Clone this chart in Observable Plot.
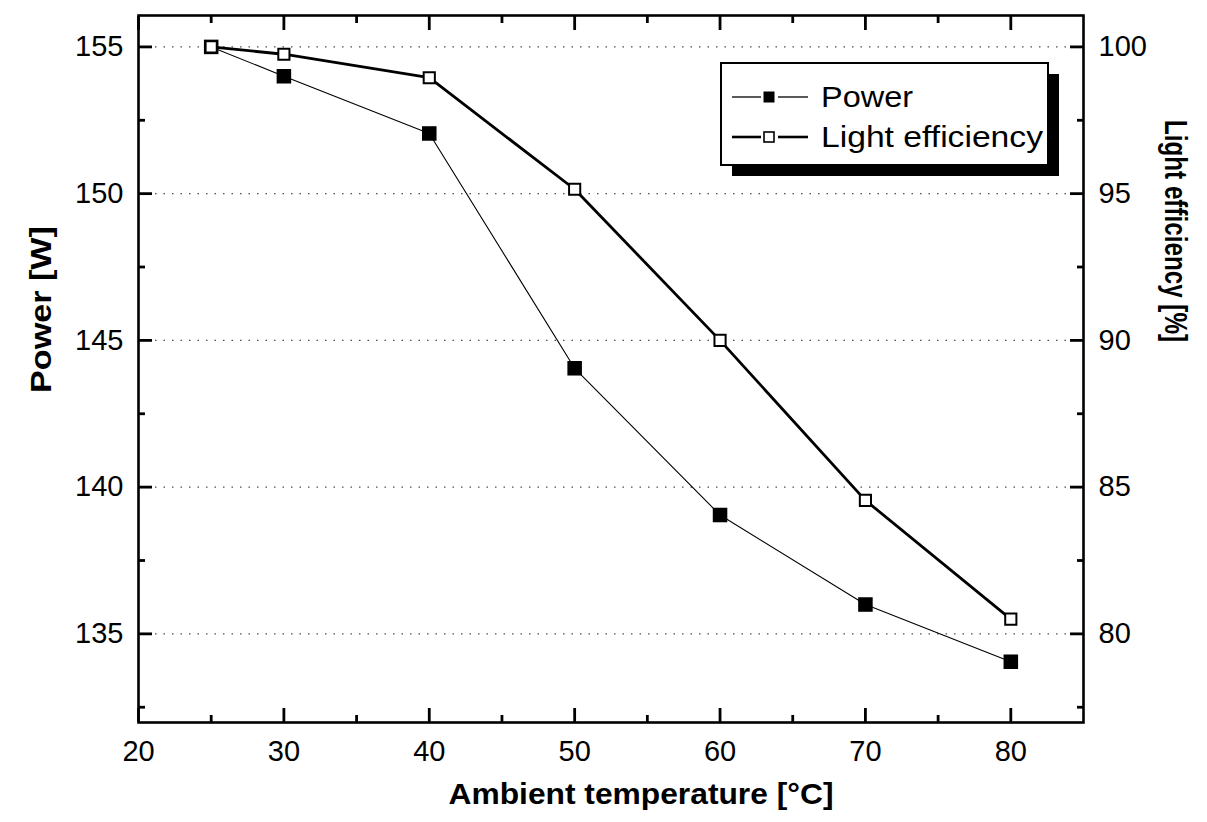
<!DOCTYPE html>
<html>
<head>
<meta charset="utf-8">
<script src="https://cdn.jsdelivr.net/npm/d3@7"></script>
<script src="https://cdn.jsdelivr.net/npm/@observablehq/plot@0.6"></script>
<style>
  html, body { margin: 0; padding: 0; background: #fff; }
  #chart { width: 1207px; height: 822px; }
</style>
</head>
<body>
<div id="chart"></div>
<script>
// ---- data ----
const temperature = [25, 30, 40, 50, 60, 70, 80];
const power = [155, 154, 152.05, 144.05, 139.05, 136.0, 134.05];
const lightEfficiency = [100, 99.75, 98.95, 95.15, 90.0, 84.55, 80.5];

const xMajorTicks = [20, 30, 40, 50, 60, 70, 80];
const xMinorTicks = [25, 35, 45, 55, 65, 75];
const powerTicks = [135, 140, 145, 150, 155];
const powerMinorTicks = [132.5, 137.5, 142.5, 147.5, 152.5];
const efficiencyTicks = [80, 85, 90, 95, 100];

const legendLabels = ["Power", "Light efficiency"];
const xTitle = "Ambient temperature [°C]";
const yLeftTitle = "Power [W]";
const yRightTitle = "Light efficiency [%]";

// right axis shares the left scale: efficiency 100 % <-> 155 W, 80 % <-> 135 W
const efficiencyOffset = 55;

// ---- layout ----
const W = 1207, H = 822;
const mTop = 15, mRight = 124, mBottom = 100, mLeft = 138;
const majorLen = 14, minorLen = 7;
const tickW = 2.8;

const powerData = temperature.map((t, i) => ({t, v: power[i]}));
const effData = temperature.map((t, i) => ({t, v: lightEfficiency[i] + efficiencyOffset}));
const effTickPositions = efficiencyTicks.map(e => e + efficiencyOffset);

const font = "'Liberation Sans', Arial, Helvetica, sans-serif";
const blank = () => "";

// inward tick marks drawn with Plot axes (empty labels), shifted inside the frame
function inwardX(ticks, len) {
  return [
    Plot.axisX(ticks, {anchor: "bottom", tickSize: len, dy: -len, tickFormat: blank, label: null, stroke: "#000", strokeWidth: tickW}),
    Plot.axisX(ticks, {anchor: "top", tickSize: len, dy: len, tickFormat: blank, label: null, stroke: "#000", strokeWidth: tickW})
  ];
}
function inwardY(ticks, len) {
  return [
    Plot.axisY(ticks, {anchor: "left", tickSize: len, dx: len, tickFormat: blank, label: null, stroke: "#000", strokeWidth: tickW}),
    Plot.axisY(ticks, {anchor: "right", tickSize: len, dx: -len, tickFormat: blank, label: null, stroke: "#000", strokeWidth: tickW})
  ];
}

const chart = Plot.plot({
  width: W,
  height: H,
  marginTop: mTop,
  marginRight: mRight,
  marginBottom: mBottom,
  marginLeft: mLeft,
  x: {domain: [20, 85]},
  y: {domain: [131.98, 156.07]},
  style: {fontFamily: font, fontSize: "29px", color: "#000", background: "#fff", overflow: "visible"},
  marks: [
    Plot.gridY(powerTicks, {stroke: "#000", strokeOpacity: 0.7, strokeWidth: 1.3, strokeDasharray: "1.5,7"}),
    Plot.line(powerData, {x: "t", y: "v", stroke: "#000", strokeWidth: 1.1}),
    Plot.line(effData, {x: "t", y: "v", stroke: "#000", strokeWidth: 2.8}),
    Plot.dot(powerData, {x: "t", y: "v", symbol: "square", fill: "#000", stroke: "none", r: 8.2}),
    Plot.dot(effData, {x: "t", y: "v", symbol: "square", fill: "#fff", stroke: "#000", strokeWidth: 2, r: 6.3}),
    ...inwardX(xMajorTicks, majorLen),
    ...inwardX(xMinorTicks, minorLen),
    ...inwardY(powerTicks, majorLen),
    ...inwardY(powerMinorTicks, minorLen),
    Plot.frame({stroke: "#000", strokeWidth: 2.6}),
    // tick labels
    Plot.axisX(xMajorTicks, {anchor: "bottom", tickSize: 0, tickPadding: 18, label: null, fontSize: 29}),
    Plot.axisY(powerTicks, {anchor: "left", tickSize: 0, tickPadding: 15, label: null, fontSize: 29}),
    Plot.axisY(effTickPositions, {anchor: "right", tickSize: 0, tickPadding: 15, label: null, fontSize: 29,
      tickFormat: d => String(Math.round(d - efficiencyOffset))}),
    // axis titles
    Plot.text([xTitle], {text: d => d, frameAnchor: "bottom", dx: 30, dy: 81, fontWeight: "bold", fontSize: 30}),
    Plot.text([yLeftTitle], {text: d => d, frameAnchor: "left", dx: -97, dy: 24, rotate: -90, fontWeight: "bold", fontSize: 29}),
    Plot.text([yRightTitle], {text: d => d, frameAnchor: "right", dx: 92, dy: -27, rotate: 90, fontWeight: "bold", fontSize: 32})
  ]
});

document.getElementById("chart").appendChild(chart);

// stretch axis titles to the reference's lengths
const titleLengths = new Map([[xTitle, 385], [yLeftTitle, 167], [yRightTitle, 222]]);
d3.select(chart).selectAll("text").each(function() {
  const t = this.textContent;
  if (titleLengths.has(t)) {
    d3.select(this).attr("textLength", titleLengths.get(t)).attr("lengthAdjust", "spacingAndGlyphs");
  }
});

// ---- legend (inside plot, upper right, with drop shadow) ----
const svg = d3.select(chart);
const lg = svg.append("g").attr("transform", "translate(721,63)");
const boxW = 327, boxH = 102;
lg.append("rect").attr("x", 11).attr("y", 11).attr("width", boxW).attr("height", boxH).attr("fill", "#000");
lg.append("rect").attr("x", 0).attr("y", 0).attr("width", boxW).attr("height", boxH)
  .attr("fill", "#fff").attr("stroke", "#000").attr("stroke-width", 2);
const legendStyle = [
  {lineWidth: 1.3, fill: "#000", size: 11, sw: 0},
  {lineWidth: 2.6, fill: "#fff", size: 10, sw: 1.6}
];
const legendTextLengths = [92, 222];
legendLabels.forEach((label, i) => {
  const cy = 34 + i * 40;
  const s = legendStyle[i];
  lg.append("line").attr("x1", 11).attr("x2", 40).attr("y1", cy).attr("y2", cy)
    .attr("stroke", "#000").attr("stroke-width", s.lineWidth);
  lg.append("line").attr("x1", 57).attr("x2", 87).attr("y1", cy).attr("y2", cy)
    .attr("stroke", "#000").attr("stroke-width", s.lineWidth);
  lg.append("rect").attr("x", 48 - s.size / 2).attr("y", cy - s.size / 2)
    .attr("width", s.size).attr("height", s.size)
    .attr("fill", s.fill).attr("stroke", s.sw ? "#000" : "none").attr("stroke-width", s.sw);
  lg.append("text").attr("x", 100).attr("y", cy).attr("dy", "0.36em")
    .attr("text-anchor", "start")
    .attr("font-family", font).attr("font-size", 29)
    .attr("textLength", legendTextLengths[i]).attr("lengthAdjust", "spacingAndGlyphs")
    .text(label);
});
</script>
</body>
</html>
